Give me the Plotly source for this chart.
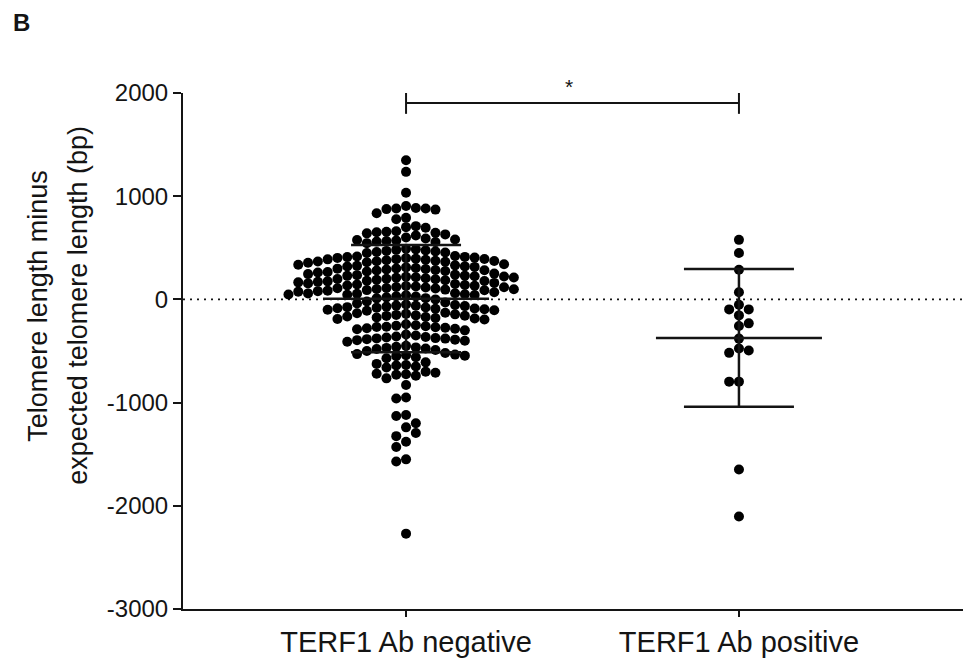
import numpy as np
import plotly.graph_objects as go

# ---------------- data ----------------
categories = ["TERF1 Ab negative", "TERF1 Ab positive"]

ab_negative = [
    1348, 1236, 1034,
    905, 885, 880, 875, 870, 880, 834,
    790, 776,
    710, 700, 695,
    660, 650, 640, 655, 630, 645, 620,
    600, 580, 570, 560, 590, 555, 575, 565, 545,
    490, 480, 470, 460, 475, 455, 465, 485, 450,
    420, 410, 400, 390, 385, 375, 395, 380, 370, 360, 405, 365, 415, 355, 402, 388, 372, 412, 392, 368,
    340, 330, 320, 310, 300, 295, 290, 285, 280, 275, 270, 305, 315, 325, 265, 260, 335, 250, 318, 298, 282,
    240, 235, 230, 225, 220, 215, 210, 205, 200, 195, 190, 185, 180, 175, 170, 165, 160, 245, 228, 212, 222, 198, 178,
    150, 145, 140, 135, 130, 125, 120, 115, 110, 105, 100, 95, 90, 85, 80, 75, 70, 155, 118, 98, 132, 108, 88,
    60, 55, 50, 45, 40, 30, 20, 10, 0, 58, 42, 28, 48, 12,
    -20, -30, -40, -50, -55, -60, -65, -70, -75, -80, -85, -90, -95, -100, -105, -110, -62, -78, -88,
    -130, -140, -150, -155, -160, -165, -170, -175, -180, -185, -190, -145, -135, -195, -158,
    -240, -250, -260, -265, -270, -275, -280, -290, -300, -255, -285, -268,
    -340, -350, -360, -370, -375, -380, -385, -390, -400, -410, -365, -395, -378,
    -450, -460, -470, -475, -480, -490, -500, -465,
    -520, -530, -540, -545, -550, -560, -570, -535,
    -610, -625, -640, -650, -660, -635,
    -700, -710, -720, -725, -730, -740,
    -765, -830,
    -950, -960, -1120, -1130, -1200, -1240, -1295, -1325, -1380, -1430, -1550, -1570, -2270,
]

ab_positive = [
    577, 449, 288, 70, -52, -97, -97, -155, -257, -232,
    -380, -476, -495, -518, -797, -797, -1648, -2104,
]

y_tick_values = [2000, 1000, 0, -1000, -2000, -3000]
y_tick_labels = ["2000", "1000", "0", "-1000", "-2000", "-3000"]
y_title_lines = ["Telomere length minus", "expected telomere length (bp)"]
panel_label = "B"
significance = "*"

# ---------------- geometry ----------------
PAGE_OFF = 8                      # default body margin of the html page
W, H = 971 - PAGE_OFF, 666 - PAGE_OFF
M_L, M_R, M_T, M_B = 175, 8, 85, 54
PLOT_W = W - M_L - M_R
PLOT_H = H - M_T - M_B
X_RANGE = [-0.67, 1.673]
Y_RANGE = [-3000, 2000]
PX_X = PLOT_W / (X_RANGE[1] - X_RANGE[0])
PX_Y = PLOT_H / (Y_RANGE[1] - Y_RANGE[0])


def px(page_x):
    return (page_x - PAGE_OFF - M_L) / PLOT_W


def py(page_y):
    return 1 - (page_y - PAGE_OFF - M_T) / PLOT_H


INK = "#141414"
FONT = "Liberation Sans, Arial, sans-serif"


def swarm_offsets(values, center, col_px=9.8, vgap_px=9.3):
    """Column-quantised beeswarm layout (Prism-like)."""
    order = sorted(range(len(values)), key=lambda i: -values[i])
    placed = {}
    xs = [center] * len(values)
    side = 1
    for i in order:
        ypx = values[i] * PX_Y
        cands = [0]
        for j in range(1, 80):
            cands += [j * side, -j * side]
        chosen = 0
        for c in cands:
            if all(abs(ypx - yy) >= vgap_px for yy in placed.get(c, [])):
                chosen = c
                break
        placed.setdefault(chosen, []).append(ypx)
        xs[i] = center + chosen * col_px / PX_X
        side = -side
    return xs


groups = [ab_negative, ab_positive]

fig = go.Figure()
shapes = [dict(type="line", xref="paper", yref="y", x0=0, x1=1, y0=0, y1=0,
               layer="below", line=dict(color=INK, width=1.6, dash="2px,5px"))]

for gi, vals in enumerate(groups):
    xs = swarm_offsets(vals, gi)
    fig.add_trace(go.Scatter(
        x=xs, y=vals, mode="markers",
        marker=dict(size=10, color="black", line=dict(width=0)),
        showlegend=False, hoverinfo="y", cliponaxis=False,
    ))
    m = float(np.mean(vals))
    sd = float(np.std(vals, ddof=1))
    mean_half = 83 / PX_X
    cap_half = 55 / PX_X
    lw = 2.5
    shapes.append(dict(type="line", xref="x", yref="y", x0=gi - mean_half, x1=gi + mean_half,
                       y0=m, y1=m, line=dict(color=INK, width=lw)))
    shapes.append(dict(type="line", xref="x", yref="y", x0=gi - cap_half, x1=gi + cap_half,
                       y0=m + sd, y1=m + sd, line=dict(color=INK, width=lw)))
    shapes.append(dict(type="line", xref="x", yref="y", x0=gi - cap_half, x1=gi + cap_half,
                       y0=m - sd, y1=m - sd, line=dict(color=INK, width=lw)))
    shapes.append(dict(type="line", xref="x", yref="y", x0=gi, x1=gi,
                       y0=m - sd, y1=m + sd, line=dict(color=INK, width=lw)))

# significance bracket
br_y = 1904
tick_h = 106
shapes += [
    dict(type="line", xref="x", yref="y", x0=0, x1=1, y0=br_y, y1=br_y,
         line=dict(color=INK, width=2)),
    dict(type="line", xref="x", yref="y", x0=0, x1=0, y0=br_y - tick_h, y1=br_y + tick_h,
         line=dict(color=INK, width=2)),
    dict(type="line", xref="x", yref="y", x0=1, x1=1, y0=br_y - tick_h, y1=br_y + tick_h,
         line=dict(color=INK, width=2)),
]

annotations = [
    dict(text=significance, x=0.49, xref="x", y=py(86), yref="paper", showarrow=False,
         xanchor="center", yanchor="middle",
         font=dict(size=21, color=INK, family=FONT)),
    dict(text="<b>" + panel_label + "</b>", x=px(21), y=py(22), xref="paper", yref="paper",
         xanchor="center", yanchor="middle", showarrow=False,
         font=dict(size=24, color=INK, family=FONT)),
]

for line_text, cx in zip(y_title_lines, [38, 78]):
    annotations.append(dict(
        text=line_text, textangle=-90, showarrow=False,
        x=px(cx), y=py(307), xref="paper", yref="paper",
        xanchor="center", yanchor="middle",
        font=dict(size=27, color=INK, family=FONT),
    ))

fig.update_layout(
    width=W, height=H,
    margin=dict(l=M_L, r=M_R, t=M_T, b=M_B, pad=0),
    paper_bgcolor="white", plot_bgcolor="white",
    shapes=shapes, annotations=annotations,
    font=dict(family=FONT, color=INK),
    xaxis=dict(
        range=X_RANGE, tickvals=[0, 1], ticktext=categories,
        showline=True, linecolor=INK, linewidth=2,
        ticks="outside", ticklen=6, tickwidth=2, tickcolor=INK,
        showgrid=False, zeroline=False, tickfont=dict(size=29, color=INK, family=FONT),
        fixedrange=True,
    ),
    yaxis=dict(
        range=Y_RANGE, tickvals=y_tick_values, ticktext=y_tick_labels,
        showline=True, linecolor=INK, linewidth=2,
        ticks="outside", ticklen=8, tickwidth=2, tickcolor=INK,
        showgrid=False, zeroline=False, tickfont=dict(size=24, color=INK, family=FONT),
        fixedrange=True,
    ),
)

fig.write_html("out.html")
